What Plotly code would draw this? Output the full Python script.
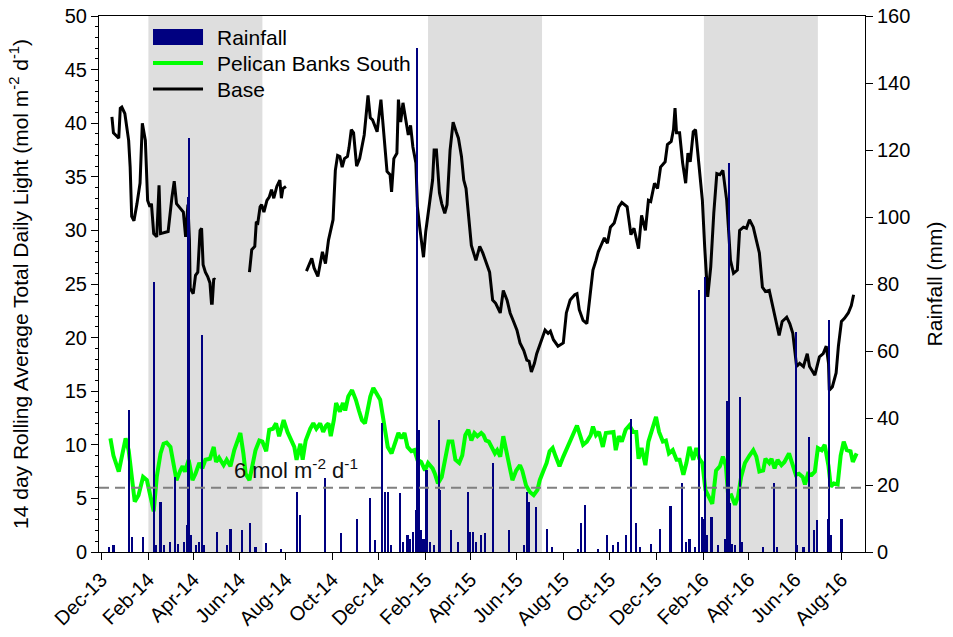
import plotly.graph_objects as go

# ---------------- data ----------------
base_dates = [
    "2013-12-15","2013-12-17","2013-12-24","2013-12-26","2013-12-28","2014-01-01","2014-01-06","2014-01-08",
    "2014-01-10","2014-01-13","2014-01-17","2014-01-21","2014-01-24","2014-01-28","2014-01-31","2014-02-03",
    "2014-02-05","2014-02-08","2014-02-12","2014-02-15","2014-02-17","2014-02-22","2014-02-27","2014-03-04",
    "2014-03-07","2014-03-10","2014-03-14","2014-03-19","2014-03-22","2014-03-25","2014-03-27","2014-03-28",
    "2014-04-01","2014-04-04","2014-04-07","2014-04-10","2014-04-12","2014-04-14","2014-04-17","2014-04-20",
    "2014-04-23","2014-04-25","2014-04-26","2014-04-28","2014-04-30",
    "2014-05-15",
    "2014-06-14","2014-06-17","2014-06-21","2014-06-23","2014-06-25","2014-06-28","2014-06-30","2014-07-03",
    "2014-07-07","2014-07-10","2014-07-13","2014-07-16","2014-07-20","2014-07-24","2014-07-26","2014-07-28",
    "2014-08-01",
    "2014-08-10",
    "2014-08-28","2014-09-04","2014-09-07","2014-09-12","2014-09-18","2014-09-22","2014-09-26","2014-10-02",
    "2014-10-05","2014-10-08","2014-10-11","2014-10-14","2014-10-17","2014-10-21","2014-10-23","2014-10-26",
    "2014-10-29","2014-11-02","2014-11-06","2014-11-12","2014-11-17","2014-11-20","2014-11-23","2014-11-29",
    "2014-12-04","2014-12-07","2014-12-12","2014-12-16","2014-12-18","2014-12-21","2014-12-25","2014-12-27",
    "2014-12-30","2015-01-02","2015-01-06","2015-01-09","2015-01-12","2015-01-15","2015-01-19","2015-01-21",
    "2015-01-24","2015-01-29","2015-02-01","2015-02-06","2015-02-10","2015-02-12","2015-02-15","2015-02-19",
    "2015-02-22","2015-02-26","2015-03-01","2015-03-05","2015-03-09","2015-03-13","2015-03-16","2015-03-20",
    "2015-03-23","2015-03-26","2015-03-29","2015-04-02","2015-04-08","2015-04-13","2015-04-17","2015-04-22",
    "2015-04-26","2015-04-30","2015-05-04","2015-05-10","2015-05-14","2015-05-19","2015-05-23","2015-05-27",
    "2015-06-01","2015-06-05","2015-06-10","2015-06-14","2015-06-17","2015-06-20","2015-06-24","2015-06-27",
    "2015-07-02","2015-07-08","2015-07-12","2015-07-15","2015-07-19","2015-07-25","2015-08-01","2015-08-05",
    "2015-08-10","2015-08-16","2015-08-19","2015-08-22","2015-08-27","2015-09-01","2015-09-05","2015-09-09",
    "2015-09-13","2015-09-16","2015-09-19","2015-09-24","2015-09-28","2015-10-02","2015-10-07","2015-10-13",
    "2015-10-17","2015-10-24","2015-10-29","2015-11-02","2015-11-08","2015-11-12","2015-11-17","2015-11-21",
    "2015-11-24","2015-11-29","2015-12-03","2015-12-07","2015-12-13","2015-12-16","2015-12-21","2015-12-24",
    "2015-12-26","2015-12-28","2016-01-01","2016-01-05","2016-01-09","2016-01-12","2016-01-15","2016-01-19",
    "2016-01-22","2016-01-27","2016-01-31","2016-02-03","2016-02-07","2016-02-11","2016-02-15","2016-02-19",
    "2016-02-23","2016-02-27","2016-03-03","2016-03-08","2016-03-12","2016-03-17","2016-03-20","2016-03-25",
    "2016-03-29","2016-04-02","2016-04-07","2016-04-11","2016-04-15","2016-04-19","2016-04-23","2016-04-28",
    "2016-05-02","2016-05-07","2016-05-11","2016-05-15","2016-05-21","2016-05-25","2016-05-29","2016-06-03",
    "2016-06-07","2016-06-12","2016-06-17","2016-06-20","2016-06-27","2016-07-03","2016-07-08","2016-07-12",
    "2016-07-15","2016-07-16","2016-07-20","2016-07-25","2016-07-28","2016-08-01","2016-08-05","2016-08-10",
    "2016-08-14","2016-08-17",
]
base_values = [
    40.6, 39.1, 38.6, 41.4, 41.5, 40.9, 38.4, 35.9,
    31.3, 30.9, 32.5, 34.4, 40.0, 38.4, 32.8, 32.2,
    32.5, 29.7, 29.4, 34.2, 29.7, 29.8, 29.9, 33.1,
    34.6, 32.5, 32.1, 31.7, 29.4, 32.4, 29.1, 24.6,
    24.1, 25.8, 26.1, 30.0, 30.2, 26.8, 26.1, 25.7,
    25.1, 23.2, 23.2, 25.5, 25.4,
    None,
    26.1, 28.2, 28.5, 30.8, 30.7, 32.2, 32.4, 31.7,
    32.8, 33.1, 33.8, 33.0, 34.1, 34.7, 33.0, 33.9,
    34.1,
    None,
    26.2, 27.4, 26.5, 25.7, 28.0, 26.9, 29.1, 31.0,
    35.6, 37.0, 36.9, 35.9, 36.7, 36.9, 37.7, 39.4,
    39.1, 36.0, 36.7, 38.9, 42.6, 40.5, 40.3, 39.2,
    42.2, 39.4, 35.5, 35.2, 33.6, 36.7, 37.2, 42.2,
    40.1, 41.9, 40.0, 38.9, 39.8, 37.8, 36.3, 32.2,
    30.3, 27.5, 29.9, 32.8, 34.7, 37.5, 37.5, 33.5,
    32.5, 31.6, 32.4, 37.5, 40.1, 39.2, 38.6, 36.9,
    34.7, 33.9, 31.3, 28.6, 27.2, 28.5, 27.9, 26.9,
    26.1, 23.5, 23.2, 22.3, 24.4, 23.5, 22.3, 21.6,
    20.7, 19.5, 18.8, 17.9, 17.8, 16.8, 17.6, 18.5,
    19.5, 20.7, 20.4, 20.6, 19.8, 19.2, 19.5, 22.3,
    23.5, 24.0, 24.1, 22.6, 21.6, 21.3, 23.8, 26.3,
    27.2, 28.0, 28.5, 29.3, 28.8, 30.3, 30.7, 32.2,
    32.6, 32.2, 29.6, 30.2, 28.3, 31.4, 30.0, 32.8,
    32.7, 34.4, 33.9, 35.9, 36.4, 38.0, 38.3, 39.4,
    41.4, 39.1, 39.1, 36.3, 34.4, 37.2, 36.4, 39.2,
    39.4, 35.9, 32.8, 28.5, 23.8, 26.6, 31.6, 35.3,
    35.2, 35.6, 32.8, 27.2, 26.0, 26.3, 30.0, 30.3,
    30.2, 31.0, 30.3, 29.1, 27.9, 24.7, 24.3, 24.4,
    23.2, 21.6, 20.2, 21.5, 21.9, 21.3, 20.4, 17.3,
    17.6, 17.3, 18.5, 17.3, 16.5, 18.2, 18.5, 19.2,
    17.6, 15.1, 15.4, 16.7, 19.2, 21.5, 21.8, 22.3,
    23.0, 24.0,
]

pbs_dates = [
    "2013-12-13","2013-12-17","2013-12-24","2013-12-28","2014-01-02","2014-01-06","2014-01-10","2014-01-14",
    "2014-01-19","2014-01-25","2014-01-30","2014-02-03","2014-02-08","2014-02-12","2014-02-17","2014-02-21",
    "2014-02-25","2014-03-02","2014-03-06","2014-03-10","2014-03-15","2014-03-18","2014-03-21","2014-03-26",
    "2014-03-31","2014-04-04","2014-04-09","2014-04-13","2014-04-17","2014-04-23","2014-04-28","2014-05-01",
    "2014-05-05","2014-05-11","2014-05-15","2014-05-20","2014-05-25","2014-05-30","2014-06-02","2014-06-06",
    "2014-06-09","2014-06-14","2014-06-18","2014-06-22","2014-06-27","2014-07-01","2014-07-06","2014-07-10",
    "2014-07-15","2014-07-19","2014-07-23","2014-07-29","2014-08-03","2014-08-08","2014-08-12","2014-08-15",
    "2014-08-20","2014-08-23","2014-08-27","2014-09-02","2014-09-06","2014-09-10","2014-09-15","2014-09-19",
    "2014-09-23","2014-09-26","2014-09-29","2014-10-03","2014-10-06","2014-10-11","2014-10-15","2014-10-18",
    "2014-10-22","2014-10-27","2014-11-01","2014-11-05","2014-11-09","2014-11-13","2014-11-17","2014-11-20",
    "2014-11-24","2014-11-28","2014-12-03","2014-12-06","2014-12-10","2014-12-13","2014-12-18","2014-12-22",
    "2014-12-27","2014-12-31","2015-01-04","2015-01-08","2015-01-13","2015-01-17","2015-01-21","2015-01-26",
    "2015-01-31","2015-02-04","2015-02-10","2015-02-13","2015-02-17","2015-02-22","2015-02-27","2015-03-03",
    "2015-03-08","2015-03-12","2015-03-17","2015-03-21","2015-03-25","2015-03-29","2015-04-02","2015-04-06",
    "2015-04-10","2015-04-15","2015-04-18","2015-04-21","2015-04-25","2015-04-29","2015-05-03","2015-05-06",
    "2015-05-10","2015-05-14","2015-05-18","2015-05-22","2015-05-26","2015-05-31","2015-06-05","2015-06-08",
    "2015-06-13","2015-06-18","2015-06-23","2015-06-28","2015-07-01","2015-07-06","2015-07-10","2015-07-14",
    "2015-07-18","2015-07-22","2015-07-27","2015-08-01","2015-08-05","2015-08-11","2015-08-15","2015-08-19",
    "2015-08-23","2015-08-27","2015-09-01","2015-09-06","2015-09-09","2015-09-13","2015-09-17","2015-09-22",
    "2015-09-26","2015-10-02","2015-10-06","2015-10-09","2015-10-13","2015-10-17","2015-10-22","2015-10-27",
    "2015-11-01","2015-11-05","2015-11-08","2015-11-12","2015-11-17","2015-11-21","2015-11-26","2015-12-01",
    "2015-12-05","2015-12-10","2015-12-14","2015-12-18","2015-12-23","2015-12-28","2016-01-01","2016-01-06",
    "2016-01-10","2016-01-14","2016-01-19","2016-01-23","2016-01-27","2016-01-31","2016-02-04","2016-02-08",
    "2016-02-13","2016-02-18","2016-02-23","2016-02-27","2016-03-02","2016-03-05","2016-03-09","2016-03-14",
    "2016-03-18","2016-03-22","2016-03-27","2016-04-02","2016-04-07","2016-04-11","2016-04-15","2016-04-20",
    "2016-04-23","2016-04-28","2016-05-01","2016-05-05","2016-05-09","2016-05-14","2016-05-18","2016-05-24",
    "2016-05-28","2016-06-02","2016-06-06","2016-06-11","2016-06-14","2016-06-18","2016-06-23","2016-06-27",
    "2016-07-01","2016-07-06","2016-07-10","2016-07-15","2016-07-18","2016-07-22","2016-07-27","2016-07-31",
    "2016-08-04","2016-08-08","2016-08-13","2016-08-16","2016-08-21",
]
pbs_values = [
    10.6, 9.0, 7.5, 9.0, 10.6, 9.5, 6.7, 4.7,
    5.3, 7.0, 6.7, 5.5, 3.8, 7.0, 9.2, 10.1,
    10.2, 9.8, 8.3, 6.7, 7.6, 8.0, 7.5, 8.6,
    6.7, 7.3, 8.3, 7.8, 8.6, 8.7, 9.8, 8.4,
    8.8, 8.1, 8.6, 8.0, 9.5, 10.6, 11.1, 9.2,
    7.3, 6.7, 8.3, 9.5, 10.4, 10.3, 9.4, 11.4,
    11.5, 12.0, 10.8, 12.3, 11.2, 10.4, 9.8, 8.6,
    10.1, 8.6, 10.4, 11.5, 12.0, 11.5, 12.0, 11.2,
    11.8, 12.0, 10.8, 12.3, 13.9, 13.1, 13.9, 13.2,
    14.5, 15.1, 14.2, 13.2, 12.3, 12.0, 13.6, 14.5,
    15.3, 14.8, 14.2, 12.9, 11.1, 9.8, 9.2, 10.0,
    11.1, 10.6, 11.1, 9.8, 9.4, 9.5, 8.6, 8.4,
    7.6, 8.3, 7.8, 7.3, 6.4, 7.0, 8.9, 10.3,
    10.3, 8.6, 8.3, 9.0, 10.9, 11.4, 10.4, 11.1,
    10.8, 11.1, 10.9, 10.4, 10.3, 9.7, 9.2, 9.5,
    8.9, 10.8, 9.5, 8.3, 6.7, 7.6, 8.1, 7.6,
    6.2, 5.6, 5.3, 5.8, 6.7, 7.6, 8.3, 9.4,
    9.7, 8.9, 8.0, 8.9, 9.5, 10.4, 11.2, 11.8,
    10.9, 10.0, 10.3, 10.9, 11.7, 10.9, 11.2, 9.8,
    11.1, 11.2, 11.2, 9.5, 10.8, 10.3, 11.4, 11.8,
    11.2, 11.2, 8.7, 9.7, 8.1, 10.3, 11.5, 12.6,
    11.2, 10.3, 10.4, 9.2, 9.5, 8.6, 8.6, 7.2,
    8.3, 9.8, 8.6, 9.7, 8.7, 8.3, 5.8, 5.2,
    4.5, 7.6, 8.0, 8.9, 8.0, 5.2, 5.3, 4.4,
    5.2, 7.0, 8.3, 9.0, 9.5, 8.9, 7.5, 7.6,
    8.7, 8.3, 8.7, 7.8, 8.6, 8.1, 8.4, 9.2,
    8.4, 7.2, 7.3, 7.0, 6.3, 7.3, 7.2, 7.5,
    9.7, 9.5, 10.0, 8.0, 6.1, 6.4, 6.3, 9.0,
    10.3, 9.5, 9.4, 8.4, 9.2,
]

rain_dates = [
    "2013-12-11","2013-12-17","2014-01-06","2014-01-07","2014-01-10","2014-01-25","2014-02-08","2014-02-11",
    "2014-02-17","2014-02-22","2014-03-01","2014-03-08","2014-03-12","2014-03-20","2014-03-24","2014-03-25",
    "2014-03-27","2014-03-29","2014-04-05","2014-04-09","2014-04-13","2014-04-15","2014-05-02","2014-05-15",
    "2014-05-20","2014-06-04","2014-06-15","2014-06-22","2014-07-06","2014-07-25","2014-08-15","2014-08-19",
    "2014-09-21","2014-10-13","2014-11-03","2014-11-20","2014-11-26","2014-12-05","2014-12-09","2014-12-13",
    "2014-12-17","2014-12-29","2015-01-02","2015-01-08","2015-01-11","2015-01-15","2015-01-19","2015-01-21",
    "2015-01-23","2015-01-26","2015-01-29","2015-02-02","2015-02-06","2015-02-12","2015-02-18","2015-02-20",
    "2015-03-06","2015-03-15","2015-03-28","2015-03-31","2015-04-04","2015-04-08","2015-04-15","2015-04-20",
    "2015-04-30","2015-05-01","2015-05-22","2015-06-10","2015-06-14","2015-06-17","2015-06-26","2015-07-10",
    "2015-07-17","2015-08-20","2015-08-24","2015-08-30","2015-09-16","2015-09-27","2015-10-05","2015-10-12",
    "2015-10-22","2015-10-29","2015-11-05","2015-11-10","2015-11-24","2015-12-06","2015-12-20","2016-01-04",
    "2016-01-09","2016-01-14","2016-01-21","2016-01-27","2016-01-30","2016-02-01","2016-02-03","2016-02-06",
    "2016-02-12","2016-02-20","2016-03-01","2016-03-04","2016-03-06","2016-03-07","2016-03-10","2016-03-14",
    "2016-03-21","2016-03-23","2016-04-20","2016-05-04","2016-05-08","2016-06-02","2016-06-04","2016-06-12",
    "2016-06-19","2016-06-26","2016-06-30","2016-07-14","2016-07-16","2016-07-18","2016-08-01",
]
rain_mm = [
    1.6, 2.0, 2.7, 42.4, 4.6, 4.6, 80.6, 2.0,
    15.0, 2.0, 3.0, 22.5, 2.5, 3.0, 8.0, 106.0,
    123.6, 5.0, 2.0, 3.0, 64.8, 2.0, 6.0, 2.0,
    7.0, 6.6, 8.8, 1.5, 2.8, 0.8, 18.0, 11.0,
    22.0, 5.8, 10.0, 16.0, 3.6, 38.4, 18.0, 18.0,
    2.0, 17.5, 3.0, 5.0, 4.0, 6.0, 12.5, 150.4,
    36.4, 6.6, 4.0, 24.5, 3.0, 2.0, 39.4, 18.5,
    6.6, 3.0, 18.0, 6.0, 6.0, 3.0, 5.0, 5.6,
    26.5, 8.0, 6.6, 2.0, 18.0, 15.0, 13.5, 7.0,
    1.5, 1.0, 8.6, 14.0, 1.0, 5.0, 2.0, 3.0,
    5.0, 39.6, 8.6, 1.5, 2.5, 7.0, 13.7, 20.5,
    3.0, 4.0, 1.5, 78.2, 10.5, 10.0, 82.0, 5.0,
    10.4, 2.0, 4.0, 45.0, 116.0, 14.6, 2.5, 2.0,
    46.4, 3.0, 1.5, 20.5, 1.5, 65.8, 2.0, 1.5,
    34.4, 6.6, 9.6, 10.0, 69.3, 5.0, 9.8,
]

wet_seasons = [("2014-02-01", "2014-07-01"), ("2015-02-04", "2015-07-04"), ("2016-02-02", "2016-07-01")]
threshold = 6
x_range = ["2013-11-28", "2016-09-01"]
light_range = [0, 50]
rain_range = [0, 160]

FONT = "Liberation Sans, Arial, sans-serif"
DAY_MS = 86400000

fig = go.Figure()

fig.add_trace(go.Scatter(
    x=base_dates, y=base_values, mode="lines", name="Base",
    line=dict(color="black", width=3), connectgaps=False, showlegend=False,
))
fig.add_trace(go.Scatter(
    x=pbs_dates, y=pbs_values, mode="lines", name="Pelican Banks South",
    line=dict(color="#00ff00", width=4), showlegend=False,
))
fig.add_trace(go.Bar(
    x=rain_dates, y=rain_mm, name="Rainfall", yaxis="y2",
    marker=dict(color="#000080", line=dict(width=0)), width=2.8 * DAY_MS, showlegend=False,
))

shapes = []
for s, e in wet_seasons:
    shapes.append(dict(type="rect", xref="x", yref="paper", x0=s, x1=e, y0=0, y1=1,
                       fillcolor="#dedede", line=dict(width=0), layer="below"))
shapes.append(dict(type="line", xref="paper", yref="y", x0=0, x1=1, y0=threshold, y1=threshold,
                   line=dict(color="#808080", width=2, dash="10px,6px")))

# manual legend (paper coordinates)
lx0, lx1, ltx = 0.0705, 0.1358, 0.1514
shapes.append(dict(type="rect", xref="paper", yref="paper", x0=lx0, x1=lx1, y0=0.9459, y1=0.9757,
                   fillcolor="#000080", line=dict(width=0)))
shapes.append(dict(type="line", xref="paper", yref="paper", x0=lx0, x1=lx1, y0=0.9123, y1=0.9123,
                   line=dict(color="#00ff00", width=4)))
shapes.append(dict(type="line", xref="paper", yref="paper", x0=lx0, x1=lx1, y0=0.8638, y1=0.8638,
                   line=dict(color="black", width=3)))

annotations = []
for txt, yy in [("Rainfall", 0.9608), ("Pelican Banks South", 0.9123), ("Base", 0.8638)]:
    annotations.append(dict(text=txt, xref="paper", yref="paper", x=ltx, y=yy, xanchor="left",
                            yanchor="middle", showarrow=False, font=dict(family=FONT, size=21, color="black")))
annotations.append(dict(text="6 mol m<sup>-2</sup> d<sup>-1</sup>", xref="x", yref="y",
                        x="2014-05-22", y=7.7, xanchor="left", yanchor="middle", showarrow=False,
                        font=dict(family=FONT, size=22, color="#111111")))

fig.update_layout(
    width=953, height=637,
    margin=dict(l=99, r=88, t=16, b=85, autoexpand=False),
    paper_bgcolor="white", plot_bgcolor="white",
    font=dict(family=FONT, size=20, color="black"),
    bargap=0,
    shapes=shapes, annotations=annotations,
    xaxis=dict(
        type="date", range=x_range, tickformat="%b-%y", dtick="M2", tick0="2013-12-01",
        ticks="outside", ticklen=7, tickwidth=1, tickcolor="black", tickangle=-45,
        tickfont=dict(family=FONT, size=20), showline=True, linecolor="black", linewidth=1,
        mirror=True, showgrid=False, zeroline=False,
    ),
    yaxis=dict(
        range=light_range, dtick=5, tick0=0, ticks="outside", ticklen=7, tickwidth=1, tickcolor="black",
        minor=dict(ticks="outside", ticklen=3, dtick=1, tickcolor="black", showgrid=False),
        showline=True, linecolor="black", linewidth=1, showgrid=False, zeroline=False,
        tickfont=dict(family=FONT, size=20),
        title=dict(text="14 day Rolling Average Total Daily Light (mol m<sup>-2</sup> d<sup>-1</sup>)",
                   font=dict(family=FONT, size=21), standoff=30),
        automargin=False,
    ),
    yaxis2=dict(
        range=rain_range, dtick=20, tick0=0, overlaying="y", side="right", ticks="outside", ticklen=7,
        tickwidth=1, tickcolor="black", showline=True, linecolor="black", linewidth=1,
        showgrid=False, zeroline=False, tickfont=dict(family=FONT, size=20),
        title=dict(text="Rainfall (mm)", font=dict(family=FONT, size=21), standoff=17),
        automargin=False,
    ),
)

fig.write_html("out.html")
